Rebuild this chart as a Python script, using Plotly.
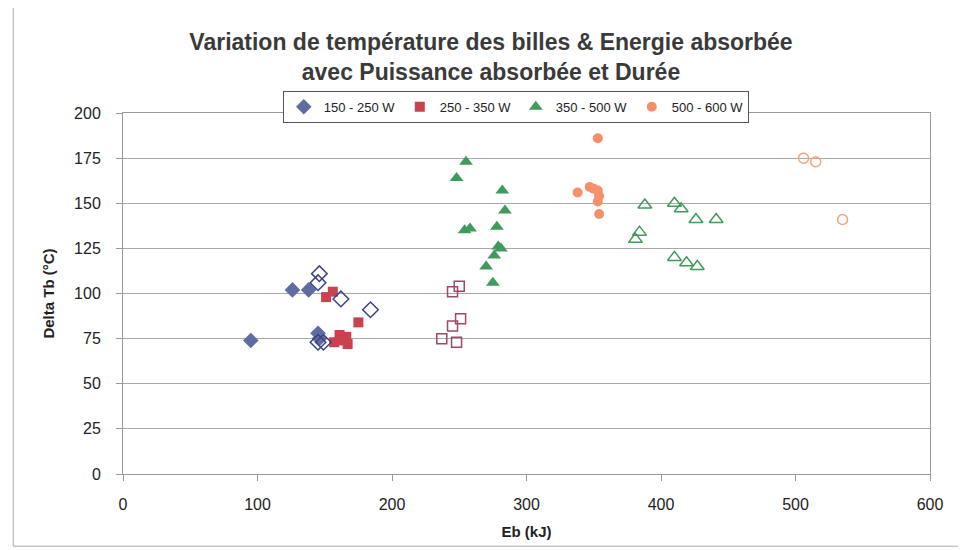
import plotly.graph_objects as go

# 150 - 250 W
blue_x = [95, 126, 138, 145, 146]
blue_y = [74, 102, 102, 78, 75]
blue_open_x = [146, 145, 162, 184, 145, 149]
blue_open_y = [111, 106, 97, 91, 73, 73]
# 250 - 350 W
red_x = [151, 156, 157, 161, 166, 167, 175, 163]
red_y = [98, 101, 73, 77, 76, 72, 84, 74]
red_open_x = [245, 250, 251, 245, 237, 248]
red_open_y = [101, 104, 86, 82, 75, 73]
# 350 - 500 W
green_x = [255, 248, 282, 284, 254, 258, 278, 279, 281, 276, 270, 275]
green_y = [173, 164, 157, 146, 135, 136, 137, 126, 125, 121, 115, 106]
green_open_x = [388, 410, 415, 426, 441, 384, 381, 410, 419, 427]
green_open_y = [149, 150, 147, 141, 141, 134, 130, 120, 117, 115]
# 500 - 600 W
orange_x = [353, 338, 347, 350, 353, 354, 353, 354]
orange_y = [186, 156, 159, 158, 157, 154, 151, 144]
orange_open_x = [506, 515, 535]
orange_open_y = [175, 173, 141]

series_names = ["150 - 250 W", "250 - 350 W", "350 - 500 W", "500 - 600 W"]
y_ticks = [0, 25, 50, 75, 100, 125, 150, 175, 200]
x_ticks = [0, 100, 200, 300, 400, 500, 600]

fig = go.Figure()

specs = [
    (blue_x, blue_y, blue_open_x, blue_open_y, "diamond", "#5f6ba3", "#3a4580", 12),
    (red_x, red_y, red_open_x, red_open_y, "square", "#c8424f", "#9a4a6a", 10),
    (green_x, green_y, green_open_x, green_open_y, "triangle-up", "#3f9a5c", "#3f9a5c", 12),
    (orange_x, orange_y, orange_open_x, orange_open_y, "circle", "#f7906a", "#f5a37e", 10),
]

for name, (fx, fy, ox, oy, sym, col, ocol, sz) in zip(series_names, specs):
    fig.add_trace(go.Scatter(
        x=fx, y=fy, mode="markers", name=name,
        marker=dict(symbol=sym, color=col, size=sz, line=dict(width=0)),
    ))
for name, (fx, fy, ox, oy, sym, col, ocol, sz) in zip(series_names, specs):
    fig.add_trace(go.Scatter(
        x=ox, y=oy, mode="markers", name=name + " (open)", showlegend=False,
        marker=dict(symbol=sym + "-open", color=ocol, size=sz, line=dict(width=1.5, color=ocol)),
    ))

fig.update_layout(
    width=966, height=550,
    margin=dict(l=115, r=44, t=105, b=84),
    paper_bgcolor="white", plot_bgcolor="white",
    font=dict(family="Liberation Sans, Arial, sans-serif", color="#222", size=16),
    title=dict(
        text="<b>Variation de température des billes & Energie absorbée<br>avec Puissance absorbée et Durée</b>",
        x=0.5, xanchor="center", y=0.923, yanchor="middle",
        font=dict(size=23, color="#3a3a3a"),
    ),
    legend=dict(
        orientation="h", x=0.198, xanchor="left", y=1.017, yanchor="middle",
        bordercolor="#555", borderwidth=1, bgcolor="white",
        font=dict(size=13, color="#222"),
        itemwidth=30, entrywidth=71, entrywidthmode="pixels",
    ),
    showlegend=True,
)

fig.update_xaxes(
    range=[0, 600], tickvals=x_ticks, ticktext=[str(v) for v in x_ticks],
    showgrid=False, zeroline=False,
    showline=True, linecolor="#999", linewidth=1, mirror=True,
    ticks="outside", ticklen=6, tickcolor="#999", ticklabelstandoff=10,
    title=dict(text="<b>Eb (kJ)</b>", font=dict(size=15), standoff=14),
    tickfont=dict(size=16),
)
fig.update_yaxes(
    range=[0, 200], tickvals=y_ticks, ticktext=[str(v) for v in y_ticks],
    showgrid=True, gridcolor="#a8a8a8", gridwidth=1, zeroline=False,
    showline=True, linecolor="#999", linewidth=1, mirror=True,
    ticks="outside", ticklen=6, tickcolor="#999", ticklabelstandoff=12,
    title=dict(text="<b>Delta Tb (°C)</b>", font=dict(size=15), standoff=15),
    tickfont=dict(size=16),
)

# outer chart frame
fig.add_shape(type="rect", xref="paper", yref="paper",
              x0=-0.136, x1=1.04, y0=-0.2, y1=1.299,
              line=dict(color="#aaa", width=1), fillcolor="rgba(0,0,0,0)", layer="below")

fig.write_html("out.html")
